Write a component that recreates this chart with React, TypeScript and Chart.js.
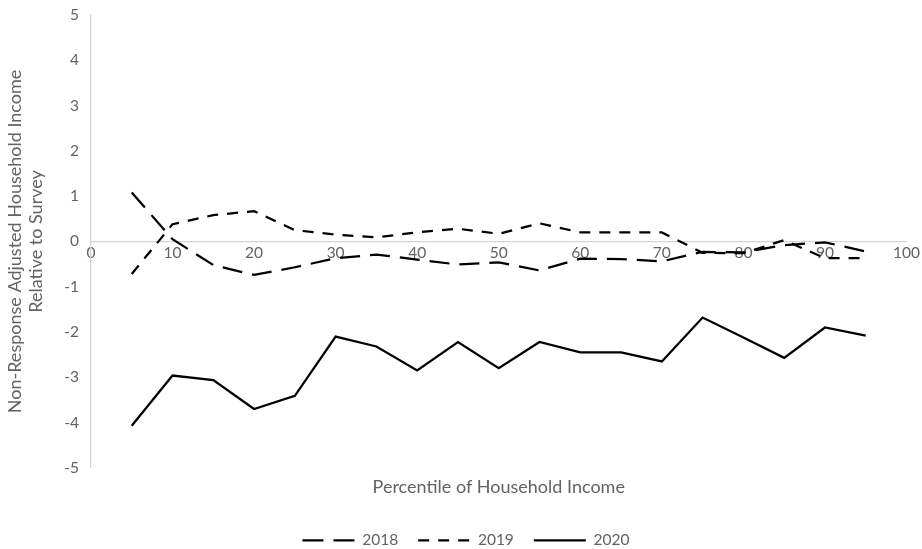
import React, { useEffect, useRef } from "react";
import { Chart, registerables } from "chart.js";

Chart.register(...registerables);

const percentiles = [5, 10, 15, 20, 25, 30, 35, 40, 45, 50, 55, 60, 65, 70, 75, 80, 85, 90, 95];
const series2018 = [1.08, 0.05, -0.52, -0.74, -0.57, -0.37, -0.29, -0.4, -0.51, -0.46, -0.64, -0.38, -0.39, -0.44, -0.23, -0.24, -0.08, -0.02, -0.22];
const series2019 = [-0.72, 0.38, 0.58, 0.67, 0.25, 0.15, 0.09, 0.2, 0.28, 0.17, 0.4, 0.2, 0.2, 0.2, -0.25, -0.26, 0.03, -0.37, -0.37];
const series2020 = [-4.07, -2.96, -3.06, -3.7, -3.41, -2.1, -2.32, -2.85, -2.22, -2.8, -2.22, -2.45, -2.45, -2.65, -1.68, -2.12, -2.57, -1.9, -2.08];
const seriesNames = ["2018", "2019", "2020"];
const seriesDashes = [[20, 10], [11, 9], []];
const legendDashes = [[21, 10], [11, 9], []];
const xTitle = "Percentile of Household Income";
const yTitle = ["Non-Response Adjusted Household Income", "Relative to Survey"];

const TEXT = "#636363";
const AXIS = "#d4d4d4";
const FONT = "Lato";
const TITLE_SIZE = 18;
const TICK_SIZE = 15.5;

const legendShift = {
  id: "legendShift",
  afterLayout(chart: any) {
    const l = chart.legend;
    if (l) {
      l.left += 12;
      l.right += 12;
    }
  },
};

export default function App() {
  const ref = useRef<HTMLCanvasElement | null>(null);
  useEffect(() => {
    if (!ref.current) return;
    const toPts = (vals: number[]) => percentiles.map((p, i) => ({ x: p, y: vals[i] }));
    const allSeries = [series2018, series2019, series2020];
    const chart = new Chart(ref.current, {
      type: "line",
      data: {
        datasets: allSeries.map((vals, i) => ({
          label: seriesNames[i],
          data: toPts(vals),
          borderColor: "#000",
          backgroundColor: "#000",
          borderWidth: 2.25,
          borderDash: seriesDashes[i],
          pointRadius: 0,
          tension: 0,
        })),
      },
      plugins: [legendShift],
      options: {
        animation: false,
        responsive: false,
        layout: { padding: { top: 0, right: 14, left: 0, bottom: 0 } },
        scales: {
          x: {
            type: "linear",
            min: 0,
            max: 100,
            position: "bottom",
            ticks: { display: false },
            grid: { display: false, drawTicks: false },
            border: { display: false },
            title: { display: true, text: xTitle, color: TEXT, font: { family: FONT, size: TITLE_SIZE }, padding: { top: 8, bottom: 15 } },
          },
          xz: {
            type: "linear",
            min: 0,
            max: 100,
            position: { y: 0 },
            ticks: { stepSize: 10, color: TEXT, font: { family: FONT, size: TICK_SIZE }, padding: 2, maxRotation: 0 },
            grid: { display: false, drawTicks: false },
            border: { display: true, color: AXIS, width: 1.3 },
          },
          y: {
            type: "linear",
            min: -5,
            max: 5,
            ticks: { stepSize: 1, color: TEXT, font: { family: FONT, size: TICK_SIZE }, padding: 12 },
            grid: { display: false, drawTicks: false },
            border: { display: true, color: AXIS, width: 1.3 },
            title: { display: true, text: yTitle, color: TEXT, font: { family: FONT, size: TITLE_SIZE }, padding: { top: 4, bottom: 5 } },
            afterFit: (s: any) => {
              s.paddingTop = 15;
            },
          },
        },
        plugins: {
          legend: {
            position: "bottom",
            labels: {
              usePointStyle: true,
              pointStyle: "line",
              pointStyleWidth: 52,
              boxHeight: 12,
              color: TEXT,
              font: { family: FONT, size: TICK_SIZE },
              padding: 20,
              generateLabels: (c: any) =>
                c.data.datasets.map((ds: any, i: number) => ({
                  text: ds.label,
                  fillStyle: ds.borderColor,
                  strokeStyle: ds.borderColor,
                  lineWidth: ds.borderWidth,
                  lineDash: legendDashes[i],
                  pointStyle: "line",
                  fontColor: TEXT,
                  hidden: false,
                  datasetIndex: i,
                })),
            },
          },
          tooltip: { enabled: false },
        },
      },
    });
    return () => chart.destroy();
  }, []);
  return (
    <div style={{ position: "absolute", left: 0, top: 0, width: 922, height: 549, overflow: "hidden", background: "#fff" }}>
      <canvas ref={ref} width={922} height={558} />
    </div>
  );
}
